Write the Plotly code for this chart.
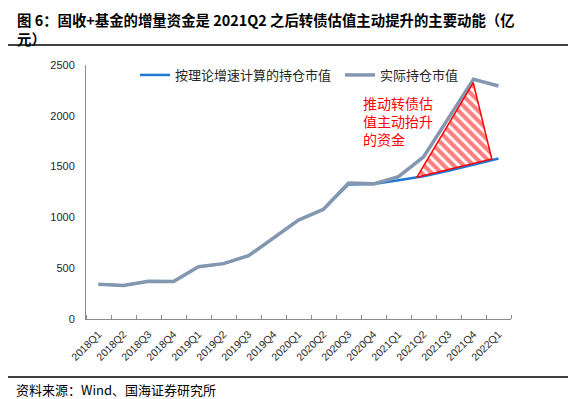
import plotly.graph_objects as go

categories = ["2018Q1", "2018Q2", "2018Q3", "2018Q4", "2019Q1", "2019Q2", "2019Q3", "2019Q4",
              "2020Q1", "2020Q2", "2020Q3", "2020Q4", "2021Q1", "2021Q2", "2021Q3", "2021Q4", "2022Q1"]
theory_values = [341, 330, 371, 368, 515, 545, 623, 794, 974, 1080, 1325, 1329, 1366, 1405, 1458, 1516, 1580]
actual_values = [341, 330, 371, 368, 515, 545, 623, 794, 974, 1080, 1338, 1330, 1401, 1595, 1970, 2359, 2293]
y_ticks = [0, 500, 1000, 1500, 2000, 2500]

# hatched region (category position, value)
hatch_x = [12.73, 14.99, 15.73, 12.73]
hatch_y = [1395, 2326, 1575, 1395]

name_theory = "按理论增速计算的持仓市值"
name_actual = "实际持仓市值"
title_text = "图 6：固收+基金的增量资金是 2021Q2 之后转债估值主动提升的主要动能（亿<br>元）"
note_text = "推动转债估<br>值主动抬升<br>的资金"
source_text = "资料来源：Wind、国海证券研究所"

CJK = "Noto Sans CJK SC"
LAT = "Liberation Sans, Arial, sans-serif"

xs = list(range(len(categories)))

fig = go.Figure()
fig.add_trace(go.Scatter(x=xs, y=theory_values, mode="lines", name=name_theory,
                         line=dict(color="#1f77d4", width=2.5)))
fig.add_trace(go.Scatter(x=xs, y=actual_values, mode="lines", name=name_actual,
                         line=dict(color="#8497b0", width=3.5)))
fig.add_trace(go.Scatter(x=hatch_x, y=hatch_y, mode="lines", fill="toself", showlegend=False,
                         line=dict(color="#ff0000", width=1.5),
                         fillcolor="rgba(0,0,0,0)",
                         fillpattern=dict(shape="\\", fgcolor="#ff0000", bgcolor="white",
                                          size=7, solidity=0.6)))

W, H = 576, 399
OFF = 8  # page offset of the figure
L, R, T, B = 86 - OFF, W - (511 - OFF), 65 - OFF, H - (319 - OFF)
pw, ph = W - L - R, H - T - B

def px_x(p):
    return (p - OFF - L) / pw

def px_y(p):
    return (H - B - (p - OFF)) / ph

fig.update_layout(
    width=W, height=H,
    margin=dict(l=L, r=R, t=T, b=B, autoexpand=False),
    paper_bgcolor="white", plot_bgcolor="white",
    font=dict(family=CJK, color="#000000"),
    showlegend=True,
    legend=dict(orientation="h", x=px_x(135), xanchor="left", y=px_y(75), yanchor="middle",
                font=dict(family=CJK, size=13, color="#262626"), bgcolor="rgba(0,0,0,0)",
                traceorder="normal", entrywidth=160, entrywidthmode="pixels"),
    xaxis=dict(range=[-0.5, len(categories) - 0.5], tickmode="array", tickvals=xs,
               ticktext=categories, tickangle=-45, ticks="", showgrid=False, zeroline=False,
               showline=True, linecolor="#8c8c8c", linewidth=1, ticklabelstandoff=4,
               tickfont=dict(family=LAT, size=10.5, color="#262626"),
               minor=dict(tickmode="array", tickvals=[i - 0.5 for i in range(len(categories) + 1)],
                          ticks="inside", ticklen=4, tickcolor="#8c8c8c", showgrid=False)),
    yaxis=dict(range=[0, 2500], tickmode="array", tickvals=y_ticks, showgrid=False,
               zeroline=False, showline=True, linecolor="#8c8c8c", linewidth=1,
               ticks="outside", ticklen=8, tickcolor="rgba(0,0,0,0)",
               tickfont=dict(family=LAT, size=11, color="#262626")),
)

fig.add_annotation(text="<b>" + title_text + "</b>", xref="paper", yref="paper",
                   x=px_x(16), y=px_y(8), xanchor="left", yanchor="top", align="left",
                   showarrow=False, borderpad=0,
                   font=dict(family=CJK, size=14.4, color="#000000"))
fig.add_annotation(text=note_text, xref="paper", yref="paper", x=px_x(361), y=px_y(91),
                   xanchor="left", yanchor="top", align="left", showarrow=False,
                   font=dict(family=CJK, size=14, color="#ff0000"))
fig.add_annotation(text=source_text, xref="paper", yref="paper", x=px_x(14), y=px_y(389),
                   xanchor="left", yanchor="middle", align="left", showarrow=False,
                   font=dict(family=CJK, size=13, color="#000000"))

fig.add_shape(type="line", xref="paper", yref="paper", x0=px_x(7), x1=px_x(568),
              y0=px_y(45), y1=px_y(45), line=dict(color="#000000", width=1.5))
fig.add_shape(type="line", xref="paper", yref="paper", x0=px_x(7), x1=px_x(568),
              y0=px_y(377), y1=px_y(377), line=dict(color="#000000", width=1.5))

fig.write_html("out.html")
